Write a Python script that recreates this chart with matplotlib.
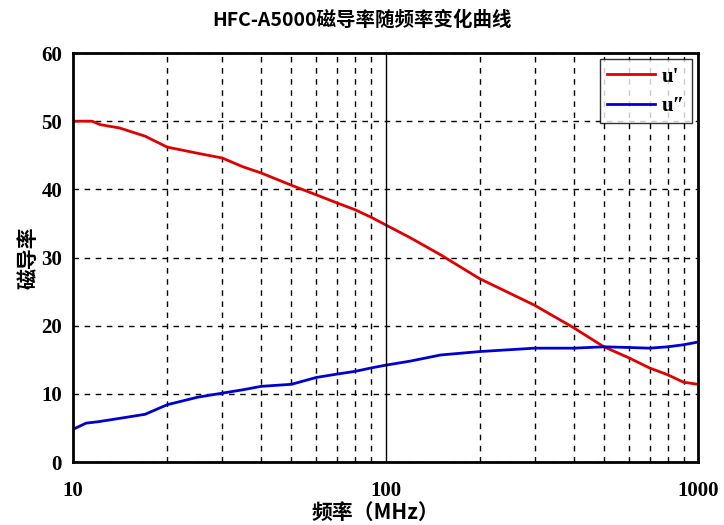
import numpy as np
import matplotlib.pyplot as plt
from matplotlib.ticker import FixedLocator, NullFormatter

plt.rcParams['font.family'] = ['Liberation Serif', 'Noto Sans CJK SC']

# ---------------------------------------------------------------- #
# data

freq_u1 = [10, 11.5, 12.2, 14.1, 17, 20, 25, 30, 35, 40, 50, 60, 70, 80, 90,
           100, 120, 150, 200, 300, 400, 500, 600, 700, 800, 900, 1000]
u1 = [50.0, 50.0, 49.5, 49.0, 47.8, 46.2, 45.3, 44.6, 43.3, 42.4, 40.6, 39.2, 38.0,
      37.0, 35.9, 34.8, 32.9, 30.4, 26.9, 23.0, 19.7, 16.9, 15.3, 13.8, 12.8, 11.7, 11.4]

freq_u2 = [10, 11, 12, 15, 17, 20, 25, 30, 35, 40, 50, 60, 70, 80, 90,
           100, 120, 150, 200, 300, 400, 500, 600, 700, 800, 900, 1000]
u2 = [4.8, 5.7, 5.9, 6.6, 7.0, 8.4, 9.5, 10.1, 10.6, 11.1, 11.4, 12.4, 12.9,
      13.3, 13.8, 14.2, 14.8, 15.7, 16.2, 16.7, 16.7, 16.9, 16.8, 16.7, 16.9, 17.2, 17.6]

y_ticks = [0, 10, 20, 30, 40, 50, 60]
x_ticks = [10, 100, 1000]
x_tick_labels = ['10', '100', '1000']

# ---------------------------------------------------------------- #

fig = plt.figure(figsize=(7.24, 5.25), dpi=100)
ax = fig.add_axes([0.101, 0.12, 0.863, 0.779])

ax.plot(freq_u1, u1, color='#e00000', lw=2, label="u'")
ax.plot(freq_u2, u2, color='#0000d0', lw=2, label='u″')

ax.set_xscale('log')
ax.set_xlim(10, 1000)
ax.set_ylim(0, 60)

ax.set_yticks(y_ticks)
ax.xaxis.set_major_locator(FixedLocator(x_ticks))
ax.set_xticklabels(x_tick_labels)
minor = [m * d for d in (10, 100) for m in range(2, 10)]
ax.xaxis.set_minor_locator(FixedLocator(minor))
ax.xaxis.set_minor_formatter(NullFormatter())

# grid: dashed horizontal + minor vertical, solid vertical at 100
ax.grid(True, which='minor', axis='x', color='black', ls=(0, (4, 4)), lw=1)
ax.grid(True, which='major', axis='y', color='black', ls=(0, (4, 4)), lw=1)
ax.axvline(100, color='black', lw=1)

ax.tick_params(which='both', length=0)
ax.tick_params(axis='x', pad=14, labelsize=15)
ax.tick_params(axis='y', pad=8, labelsize=15)
for lab in ax.get_xticklabels() + ax.get_yticklabels():
    lab.set_fontweight('bold')

for s in ax.spines.values():
    s.set_linewidth(2)

fig.text(0.518, 0.024, '频率（MHz）', ha='center', va='center', fontsize=15,
         fontweight='bold', family=['Noto Sans CJK SC', 'Liberation Serif'])
ax.set_ylabel('磁导率', fontsize=15, fontweight='bold', labelpad=2,
              family=['Noto Sans CJK SC', 'Liberation Serif'])
fig.text(0.5, 0.962, 'HFC-A5000磁导率随频率变化曲线', ha='center', va='center',
         fontsize=14, fontweight='bold', family=['Noto Sans CJK SC', 'Liberation Serif'])

leg = ax.legend(loc='upper right', fontsize=15, frameon=True, fancybox=False,
                edgecolor='black', handlelength=2.3, borderaxespad=0.3,
                borderpad=0.35, labelspacing=0.45, handletextpad=0.3)
leg.get_frame().set_linewidth(1)
for t in leg.get_texts():
    t.set_fontweight('bold')

fig.savefig('out.png', dpi=100)
